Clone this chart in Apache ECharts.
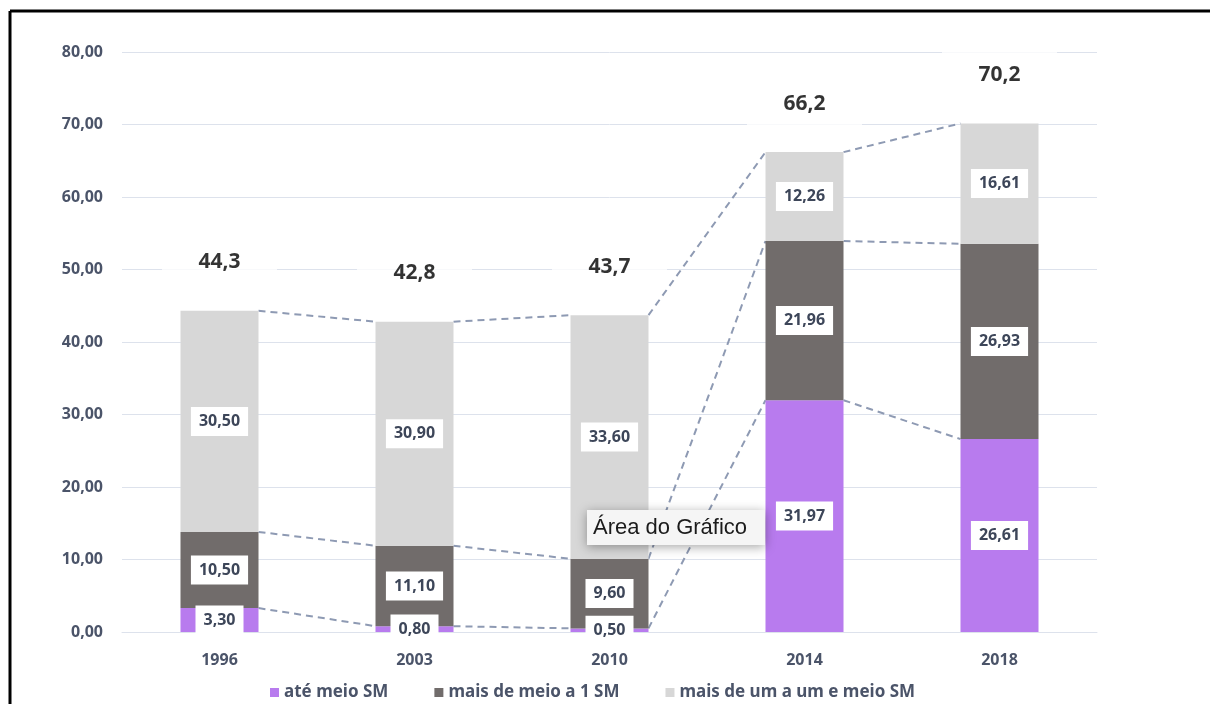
<!DOCTYPE html>
<html>
<head>
<meta charset="utf-8">
<script src="https://cdn.jsdelivr.net/npm/echarts@6/dist/echarts.min.js"></script>
<style>
  html, body { margin: 0; padding: 0; background: #fff; }
  #chart { width: 1210px; height: 704px; }
</style>
</head>
<body>
<div id="chart"></div>
<script>
// dados
const years = ['1996', '2003', '2010', '2014', '2018'];
const ateMeio = [3.30, 0.80, 0.50, 31.97, 26.61];
const meioA1 = [10.50, 11.10, 9.60, 21.96, 26.93];
const umAUmEMeio = [30.50, 30.90, 33.60, 12.26, 16.61];
const totals = [44.3, 42.8, 43.7, 66.2, 70.2];
const seriesNames = ['até meio SM', 'mais de meio a 1 SM', 'mais de um a um e meio SM'];

const BAR_W = 78;
const FONT = '"Noto Sans", "Open Sans", sans-serif';

const fmt2 = v => v.toFixed(2).replace('.', ',');
const fmt1 = v => v.toFixed(1).replace('.', ',');

const segLabel = {
  show: true,
  position: 'inside',
  formatter: p => fmt2(p.value),
  backgroundColor: '#fff',
  padding: [7, 8, 6, 8],
  color: '#3d4659',
  fontFamily: FONT,
  fontWeight: 'bold',
  fontSize: 16
};

function barSeries(name, data, color) {
  return {
    name: name,
    type: 'bar',
    stack: 'total',
    barWidth: BAR_W,
    data: data,
    itemStyle: { color: color },
    label: segLabel,
    emphasis: { disabled: true },
    z: 3
  };
}

// linhas de série tracejadas entre as barras
function levels(k) {
  return [ateMeio[k], ateMeio[k] + meioA1[k], ateMeio[k] + meioA1[k] + umAUmEMeio[k]];
}

function renderSeriesLines(params, api) {
  const i = params.dataIndex;
  if (i >= years.length - 1) return null;
  const half = BAR_W / 2;
  const a = levels(i);
  const b = levels(i + 1);
  return {
    type: 'group',
    children: a.map((v, j) => {
      const p1 = api.coord([i, v]);
      const p2 = api.coord([i + 1, b[j]]);
      return {
        type: 'line',
        shape: { x1: p1[0] + half, y1: p1[1], x2: p2[0] - half, y2: p2[1] },
        style: { stroke: '#8e9ab3', lineWidth: 2, lineDash: [7, 5] }
      };
    })
  };
}

const myChart = echarts.init(document.getElementById('chart'));
myChart.setOption({
  animation: false,
  backgroundColor: '#fff',
  grid: { left: 122, right: 113, top: 52, bottom: 72 },
  legend: {
    data: seriesNames,
    left: 265,
    top: 679,
    itemWidth: 9,
    itemHeight: 9,
    itemGap: 46,
    icon: 'rect',
    selectedMode: false,
    textStyle: { color: '#4b5469', fontFamily: FONT, fontSize: 17, fontWeight: 'bold' }
  },
  xAxis: {
    type: 'category',
    data: years,
    axisLine: { lineStyle: { color: '#dde2ec', width: 1 } },
    axisTick: { show: false },
    axisLabel: { color: '#4b5469', fontFamily: FONT, fontWeight: 'bold', fontSize: 16, margin: 20 }
  },
  yAxis: {
    type: 'value',
    min: 0,
    max: 80,
    interval: 10,
    axisLine: { show: false },
    axisTick: { show: false },
    splitLine: { lineStyle: { color: '#dde2ec', width: 1 } },
    axisLabel: {
      formatter: v => fmt2(v),
      color: '#4b5469',
      fontFamily: FONT,
      fontWeight: 'bold',
      fontSize: 16,
      margin: 19
    }
  },
  series: [
    barSeries(seriesNames[0], ateMeio, '#b87bee'),
    barSeries(seriesNames[1], meioA1, '#716c6b'),
    barSeries(seriesNames[2], umAUmEMeio, '#d7d7d7'),
    {
      type: 'custom',
      renderItem: renderSeriesLines,
      data: years.map((y, i) => [i, 0]),
      encode: { x: 0, y: 1 },
      silent: true,
      z: 2
    },
    {
      type: 'scatter',
      data: totals,
      symbolSize: 0,
      silent: true,
      z: 4,
      label: {
        show: true,
        position: 'top',
        distance: 26,
        formatter: p => fmt1(p.value),
        backgroundColor: '#fff',
        width: 115,
        height: 24,
        align: 'center',
        padding: [12, 0, 12, 0],
        color: '#000',
        fontFamily: FONT,
        fontWeight: 'bold',
        fontSize: 21
      }
    }
  ],
  graphic: [
    { type: 'line', shape: { x1: 10, y1: 11, x2: 10, y2: 704 }, style: { stroke: '#000', lineWidth: 3 } },
    { type: 'line', shape: { x1: 10, y1: 11, x2: 1210, y2: 11 }, style: { stroke: '#000', lineWidth: 3 } },
    {
      type: 'rect',
      shape: { x: 587, y: 510, width: 178, height: 35 },
      style: { fill: '#f5f5f5', shadowBlur: 10, shadowColor: 'rgba(0,0,0,0.35)', shadowOffsetY: 2 },
      z: 100
    },
    {
      type: 'text',
      x: 593,
      y: 528,
      style: { text: 'Área do Gráfico', fill: '#1b1b1b', font: '22px "Liberation Sans", Arial, sans-serif', verticalAlign: 'middle' },
      z: 101
    }
  ]
});
</script>
</body>
</html>
